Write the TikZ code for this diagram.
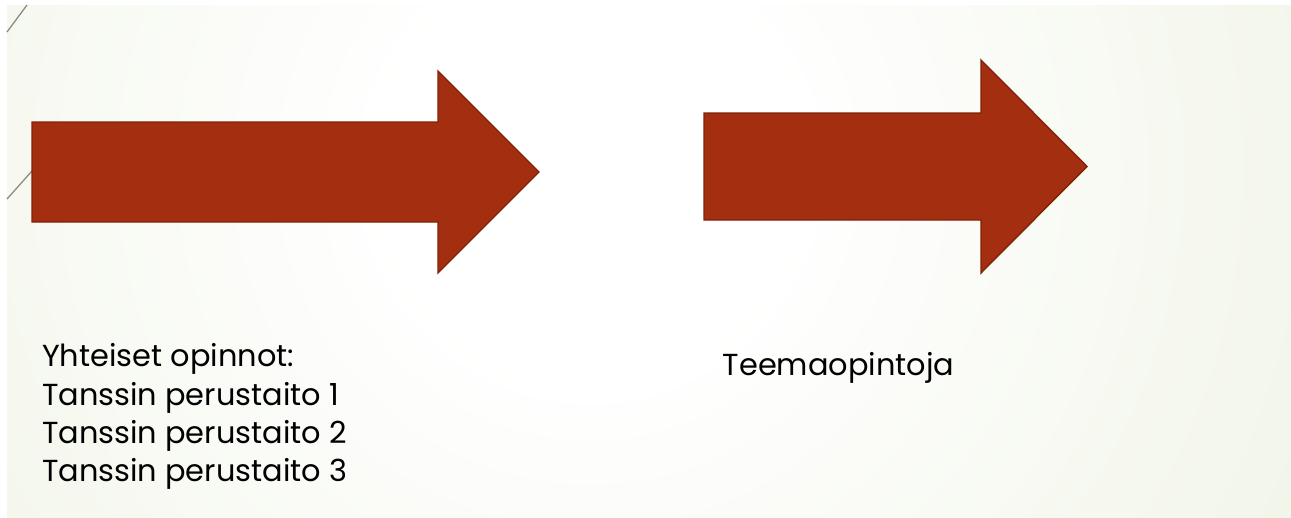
\documentclass[tikz,border=0pt]{standalone}
\usepackage{fontspec}
\setmainfont{Poppins}
\definecolor{arrowfill}{RGB}{164,46,16}
\definecolor{arrowline}{RGB}{128,34,8}
\definecolor{bgedge}{RGB}{221,230,198}
\definecolor{linegray}{RGB}{140,140,130}
\pgfdeclareradialshading{slideshade}{\pgfpoint{0bp}{0bp}}{color(0bp)=(white); color(6bp)=(white); color(50bp)=(bgedge)}
\begin{document}
\begin{tikzpicture}[x=1pt,y=-1pt,
  bigarrow/.style={fill=arrowfill, draw=arrowline, line width=1.4pt, line join=miter},
  txt/.style={anchor=base west, inner sep=0pt, font=\fontsize{30.4}{38.4}\selectfont},
  deco/.style={draw=linegray, line width=1.3pt}]
\useasboundingbox (0,0) rectangle (1291,517);
\fill[white] (0,0) rectangle (1291,517);
\begin{scope}
  \clip (7,5) rectangle (1291,517);
  \shade[shading=slideshade] (-260,-680) rectangle (1440,1020);
\end{scope}
% decorative lines
\draw[deco] (7,32) -- (27,5);
\draw[deco] (7,199) -- (40,162);
% arrows
\draw[bigarrow] (32,122) -- (438,122) -- (438,71) -- (539,172) -- (438,273) -- (438,222) -- (32,222) -- cycle;
\draw[bigarrow] (704,113) -- (981,113) -- (981,60) -- (1087,166.5) -- (981,273) -- (981,220) -- (704,220) -- cycle;
% texts
\node[txt] (l1) at (42,366.7) {Yhteiset opinnot:};
\node[txt] (l2) at (42,405) {Tanssin perustaito 1};
\node[txt] (l3) at (42,443.4) {Tanssin perustaito 2};
\node[txt] (l4) at (42,481.8) {Tanssin perustaito 3};
\node[txt] (t1) at (722.5,375) {Teemaopintoja};
\end{tikzpicture}
\end{document}
